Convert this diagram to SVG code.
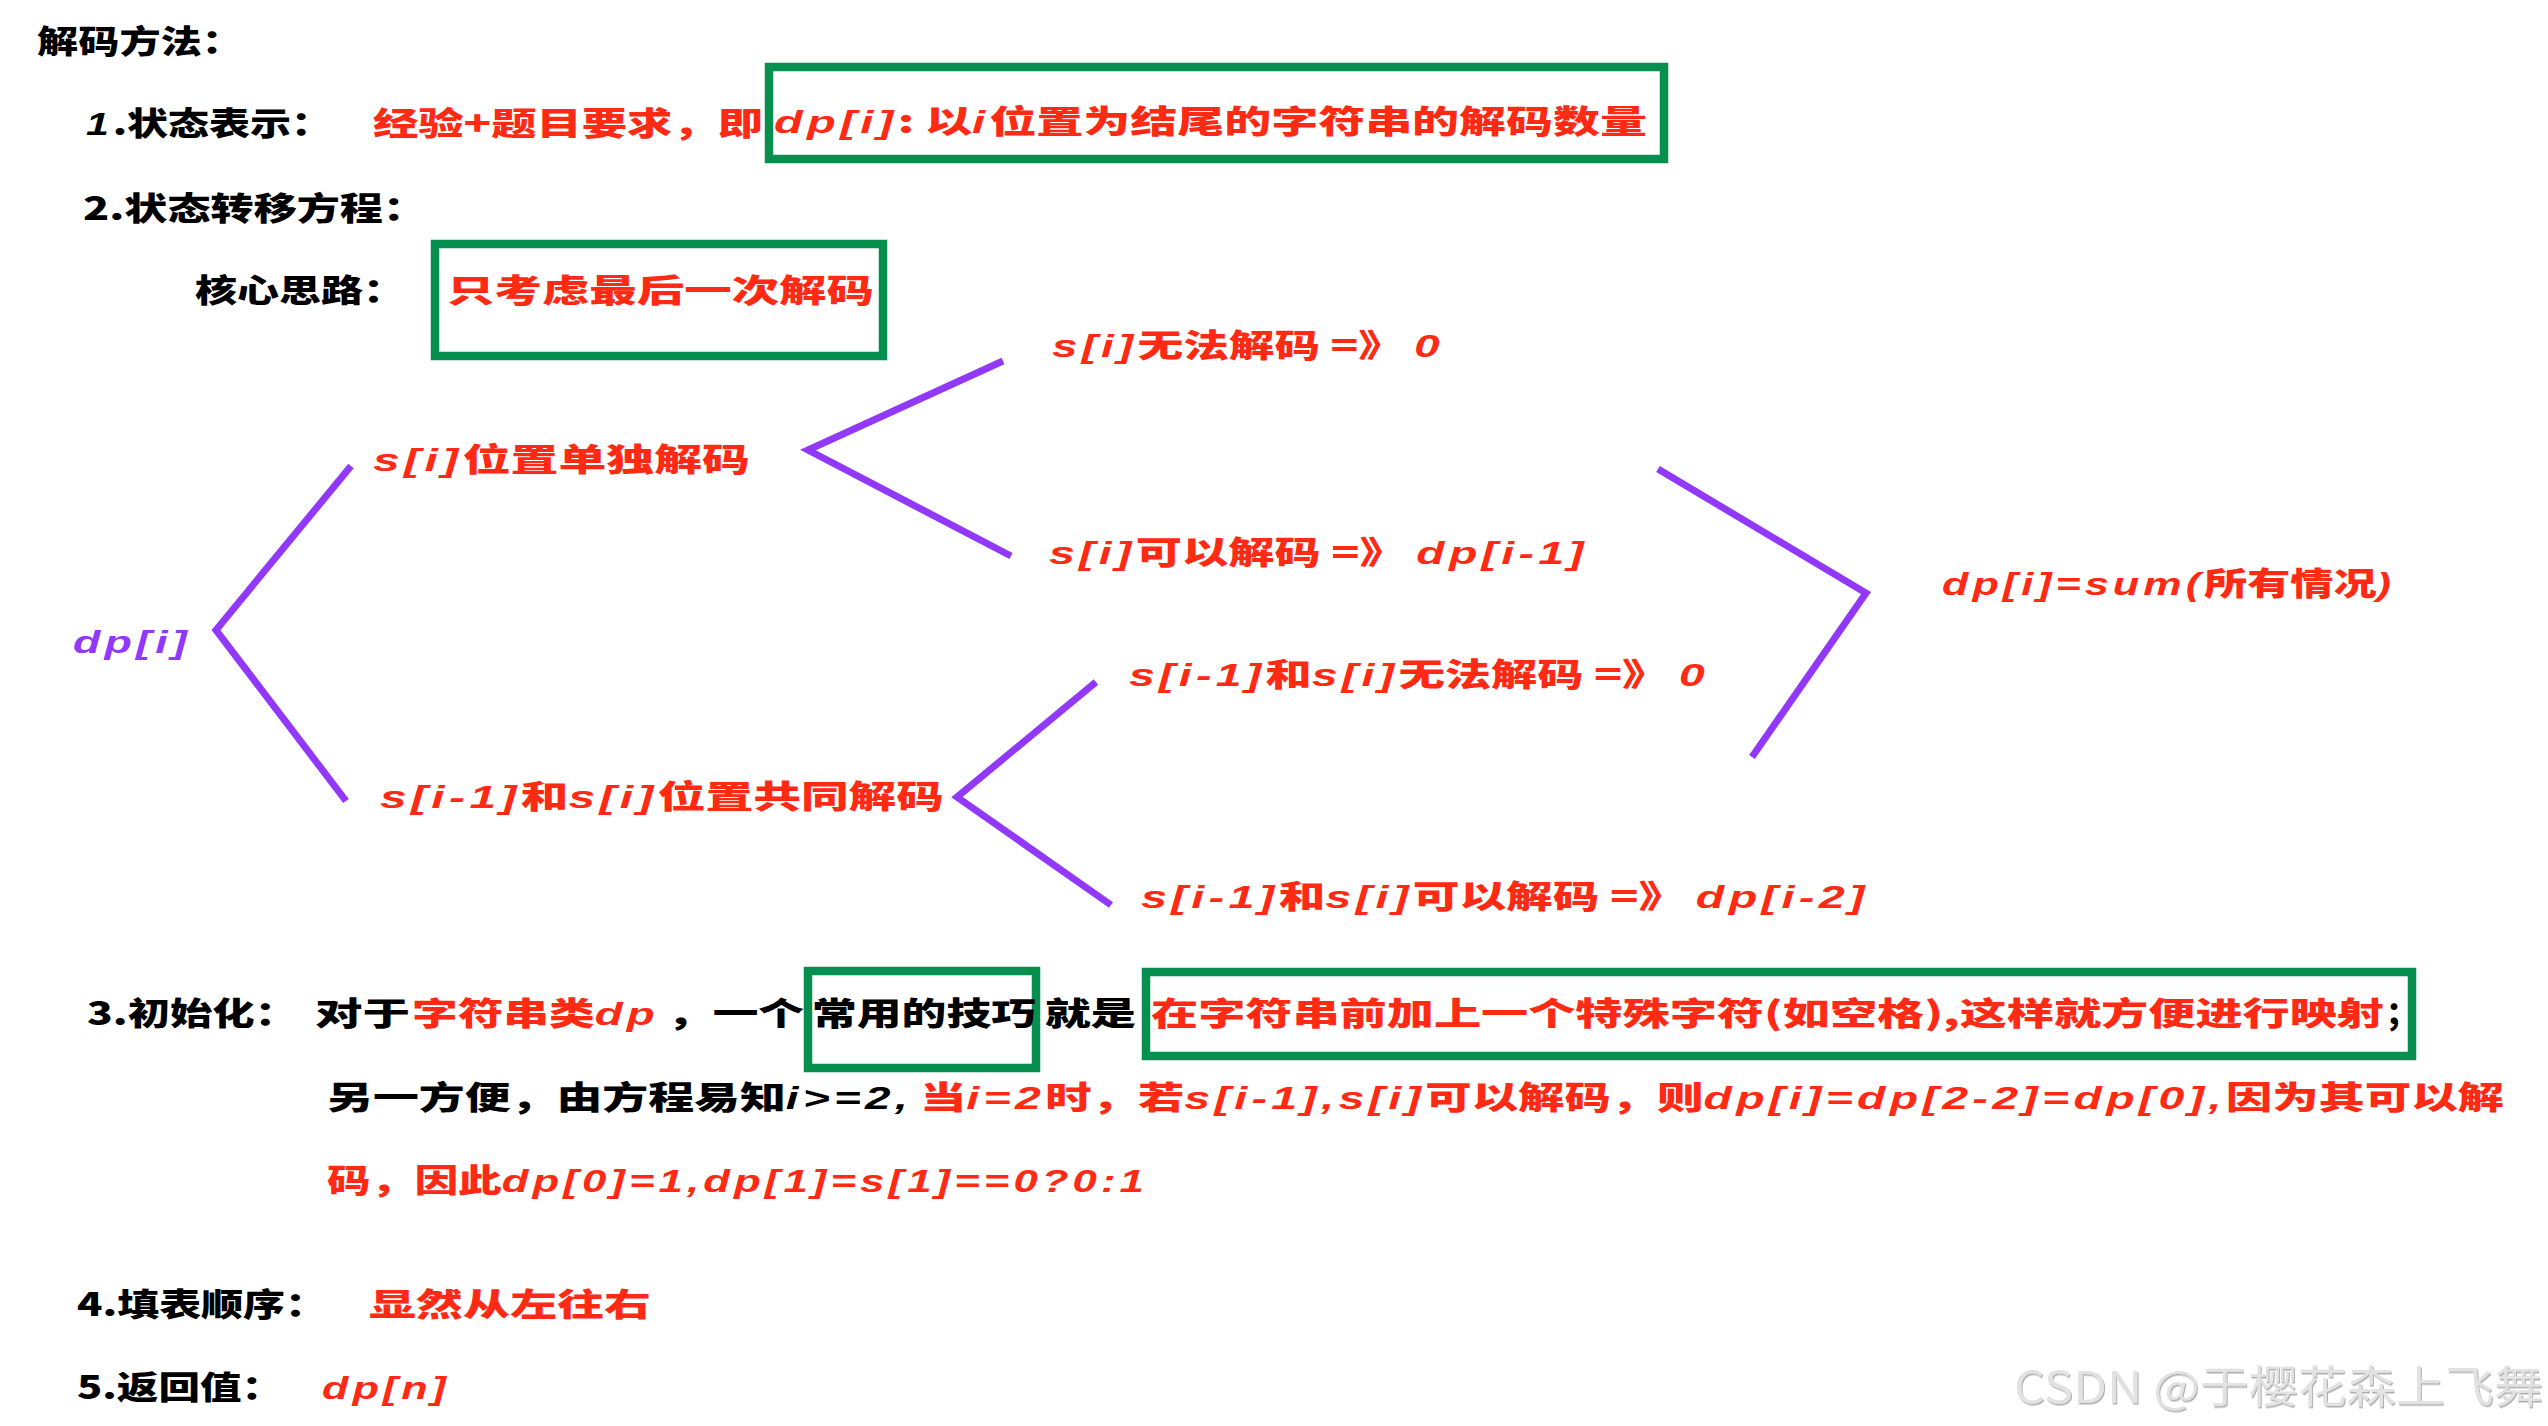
<svg xmlns="http://www.w3.org/2000/svg" width="2548" height="1426" viewBox="0 0 2548 1426">
<style>
.t{font-family:"Noto Sans CJK SC","Noto Sans",sans-serif;font-size:32px;font-weight:900}
.k{fill:#000}
.r{fill:#ff2a14}
.p{fill:#9238fb}
.l{font-family:"Liberation Sans","Arimo",sans-serif;font-style:italic;font-weight:700;letter-spacing:3px}
.box{fill:none;stroke:#078f4f;stroke-width:8.5}
.br{fill:none;stroke:#9238fb;stroke-width:7;stroke-linejoin:miter;stroke-linecap:butt}
.wm{font-family:"Noto Sans CJK SC","Noto Sans",sans-serif;font-size:44px;font-weight:400;fill:#e2e2e2}
</style>
<defs>
<filter id="sh" x="-5%" y="-20%" width="110%" height="140%">
<feDropShadow dx="1" dy="1.5" stdDeviation="0.6" flood-color="#9a9a9a" flood-opacity="0.8"/>
</filter>
</defs>
<rect width="2548" height="1426" fill="#fff"/>

<g id="title"><text class="t k" x="37" y="53" font-size="30" textLength="206" lengthAdjust="spacingAndGlyphs">解码方法：</text></g>

<g id="state-repr">
<text class="t k" x="86" y="135" font-size="33" textLength="246" lengthAdjust="spacingAndGlyphs"><tspan class="l">1</tspan>.状态表示：</text>
<text class="t r" x="373" y="135" font-size="33" textLength="390" lengthAdjust="spacingAndGlyphs">经验+题目要求，即</text>
</g>
<g id="state-box">
<rect class="box" x="769" y="67" width="895" height="92"/>
<text class="t r" x="774" y="133" font-size="33" textLength="873" lengthAdjust="spacingAndGlyphs"><tspan class="l">dp[i]</tspan>: 以<tspan class="l">i</tspan>位置为结尾的字符串的解码数量</text>
</g>

<g id="transition"><text class="t k" x="83" y="220" textLength="343" lengthAdjust="spacingAndGlyphs">2.状态转移方程：</text></g>
<g id="core-idea"><text class="t k" x="195" y="302" textLength="210" lengthAdjust="spacingAndGlyphs">核心思路：</text></g>
<g id="core-box">
<rect class="box" x="435" y="244" width="448" height="112"/>
<text class="t r" x="447" y="302" textLength="427" lengthAdjust="spacingAndGlyphs">只考虑最后一次解码</text>
</g>

<g id="dp-i"><text class="t p" x="73" y="653" textLength="118" lengthAdjust="spacingAndGlyphs"><tspan class="l">dp[i]</tspan></text></g>
<g id="single"><text class="t r" x="373" y="471" textLength="377" lengthAdjust="spacingAndGlyphs"><tspan class="l">s[i]</tspan>位置单独解码</text></g>
<g id="single-no"><text class="t r" x="1052" y="357" textLength="392" lengthAdjust="spacingAndGlyphs"><tspan class="l">s[i]</tspan>无法解码 =》 <tspan class="l">0</tspan></text></g>
<g id="single-yes"><text class="t r" x="1049" y="564" textLength="539" lengthAdjust="spacingAndGlyphs"><tspan class="l">s[i]</tspan>可以解码 =》 <tspan class="l">dp[i-1]</tspan></text></g>
<g id="pair"><text class="t r" x="380" y="808" textLength="564" lengthAdjust="spacingAndGlyphs"><tspan class="l">s[i-1]</tspan>和<tspan class="l">s[i]</tspan>位置共同解码</text></g>
<g id="pair-no"><text class="t r" x="1129" y="686" textLength="580" lengthAdjust="spacingAndGlyphs"><tspan class="l">s[i-1]</tspan>和<tspan class="l">s[i]</tspan>无法解码 =》 <tspan class="l">0</tspan></text></g>
<g id="pair-yes"><text class="t r" x="1141" y="908" textLength="728" lengthAdjust="spacingAndGlyphs"><tspan class="l">s[i-1]</tspan>和<tspan class="l">s[i]</tspan>可以解码 =》 <tspan class="l">dp[i-2]</tspan></text></g>
<g id="sum"><text class="t r" x="1942" y="595" textLength="453" lengthAdjust="spacingAndGlyphs"><tspan class="l">dp[i]=sum(</tspan>所有情况<tspan class="l">)</tspan></text></g>

<g id="connectors">
<polyline class="br" points="351,466 216,630 346,801"/>
<polyline class="br" points="1003,361 808,450 1011,556"/>
<polyline class="br" points="1096,682 957,797 1111,905"/>
<polyline class="br" points="1658,469 1866,593 1752,757"/>
</g>

<g id="init">
<text class="t k" x="87" y="1025" textLength="210" lengthAdjust="spacingAndGlyphs">3.初始化：</text>
<text class="t k" x="315" y="1025" textLength="95" lengthAdjust="spacingAndGlyphs">对于</text>
<text class="t r" x="412" y="1025" textLength="247" lengthAdjust="spacingAndGlyphs">字符串类<tspan class="l">dp</tspan></text>
<text class="t k" x="667" y="1025" textLength="137" lengthAdjust="spacingAndGlyphs">，一个</text>
<text class="t k" x="1045" y="1025" textLength="91" lengthAdjust="spacingAndGlyphs">就是</text>
<text class="t k" x="2386" y="1025">；</text>
</g>
<g id="tip-box">
<rect class="box" x="808" y="971" width="228" height="97"/>
<text class="t k" x="812" y="1025" textLength="224" lengthAdjust="spacingAndGlyphs">常用的技巧</text>
</g>
<g id="trick-box">
<rect class="box" x="1146" y="972" width="1266" height="84"/>
<text class="t r" x="1151" y="1025" textLength="1233" lengthAdjust="spacingAndGlyphs">在字符串前加上一个特殊字符(如空格),这样就方便进行映射</text>
</g>
<g id="init-2">
<text class="t k" x="327" y="1109" textLength="585" lengthAdjust="spacingAndGlyphs">另一方便，由方程易知<tspan class="l">i&gt;=2,</tspan></text>
<text class="t r" x="920" y="1109" textLength="1584" lengthAdjust="spacingAndGlyphs">当<tspan class="l">i=2</tspan>时，若<tspan class="l">s[i-1],s[i]</tspan>可以解码，则<tspan class="l">dp[i]=dp[2-2]=dp[0],</tspan>因为其可以解</text>
</g>
<g id="init-3">
<text class="t r" x="327" y="1192" textLength="821" lengthAdjust="spacingAndGlyphs">码，因此<tspan class="l">dp[0]=1,dp[1]=s[1]==0?0:1</tspan></text>
</g>

<g id="order">
<text class="t k" x="77" y="1316" textLength="250" lengthAdjust="spacingAndGlyphs">4.填表顺序：</text>
<text class="t r" x="369" y="1316" textLength="282" lengthAdjust="spacingAndGlyphs">显然从左往右</text>
</g>
<g id="return">
<text class="t k" x="77" y="1399" textLength="206" lengthAdjust="spacingAndGlyphs">5.返回值：</text>
<text class="t r" x="322" y="1399" textLength="128" lengthAdjust="spacingAndGlyphs"><tspan class="l">dp[n]</tspan></text>
</g>

<g id="watermark"><text class="wm" x="2014" y="1403" textLength="529" lengthAdjust="spacingAndGlyphs" filter="url(#sh)">CSDN @于樱花森上飞舞</text></g>
</svg>
